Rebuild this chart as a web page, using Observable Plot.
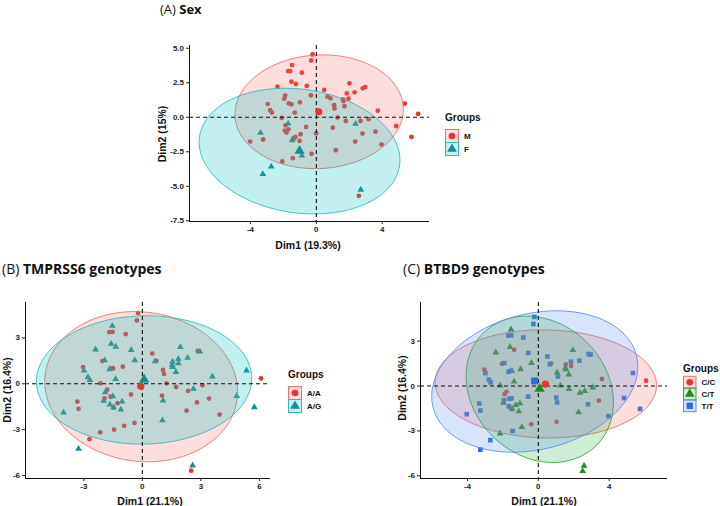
<!DOCTYPE html>
<html><head><meta charset="utf-8">
<script src="https://cdn.jsdelivr.net/npm/d3@7"></script>
<script src="https://cdn.jsdelivr.net/npm/@observablehq/plot@0.6"></script>
<style>
html,body{margin:0;padding:0;background:#fff;}
body{width:720px;height:506px;position:relative;overflow:hidden;}
.panel{position:absolute;}
#overlay{position:absolute;left:0;top:0;}
</style></head><body>
<script>
// ---------- DATA ----------
// Panel A: Sex (Dim1 19.3%, Dim2 15%)
const sexGroups = ["M", "F"];
const sexM = [
[-0.23,4.55],[-0.31,4.12],[-1.47,3.78],[-1.71,3.35],[-1.59,3.35],[-0.88,3.23],[-1.51,2.58],[-1.24,2.41],[-2.36,2.22],[-0.58,2.27],
[2.01,2.46],[2.82,2.10],[2.97,2.19],[0.48,1.98],[2.32,1.81],[1.85,1.73],[-0.33,1.59],[-1.89,1.57],[-1.95,1.35],[0.68,1.49],
[0.86,1.37],[1.61,1.30],[1.65,1.18],[1.95,1.35],[-2.95,0.96],[-1.67,1.01],[-1.51,0.94],[-1.00,1.08],[1.71,0.80],[1.08,0.87],
[1.10,0.63],[5.37,0.99],[-2.80,0.51],[-2.70,0.34],[-1.31,0.34],[3.73,0.48],[6.18,0.24],[-2.10,-0.05],[1.29,-0.02],[1.79,-0.27],
[2.68,-0.27],[3.17,-0.14],[-1.87,-0.58],[-0.62,-0.70],[1.00,-0.75],[4.85,-0.63],[-1.91,-0.96],[-1.69,-0.87],[-1.81,-1.11],[3.59,-1.04],
[2.80,-1.18],[5.78,-1.42],[-0.96,-1.23],[-1.27,-1.42],[-1.37,-1.52],[-0.01,-1.16],[-3.23,-1.61],[-4.02,-1.76],[-1.02,-1.71],[2.36,-1.76],
[3.96,-1.98],[1.18,-2.39],[-0.29,-2.65],[-1.43,-2.96],[-2.07,-3.20],[2.58,-5.69]
];
const sexF = [[-1.71,-0.46],[-3.39,-1.13],[-1.47,-1.66],[2.38,-0.48],[-0.88,-2.77],[-2.74,-3.57],[-3.25,-4.12],[2.70,-5.25]];
const sexMeans = [[0.15,0.40],[-1.02,-2.43]];
// ellipse: centre x, centre y, semi-axis a, semi-axis b, angle (rad)
const sexEllipses = [[0.17,0.40,5.12,4.11,0.10],[-1.02,-2.45,6.17,4.45,-0.227]];
const sexXTicks = [-4,0,4];
const sexYTicks = [5,2.5,0,-2.5,-5,-7.5];

// Panels B & C: same individuals (Dim1 21.1%, Dim2 16.4%) [x, y, TMPRSS6, BTBD9]
const genoPoints = [
[-0.22,4.62,"A/A","T/T"],[-0.28,4.14,"A/A","T/T"],[-1.69,3.37,"A/A","T/T"],[-1.53,3.39,"A/A","T/T"],[-0.85,3.24,"A/A","T/T"],
[-0.57,2.21,"A/G","T/T"],[0.51,1.97,"A/A","T/T"],[0.65,1.46,"A/G","T/T"],[2.84,2.14,"A/A","T/T"],[2.95,2.10,"A/G","T/T"],
[2.32,1.69,"A/G","T/T"],[1.84,1.62,"A/G","T/T"],[-1.93,1.53,"A/G","T/T"],[-2.99,0.86,"A/G","T/T"],[-2.79,0.43,"A/G","T/T"],
[-2.69,0.24,"A/G","T/T"],[-1.68,0.95,"A/G","T/T"],[-1.54,1.02,"A/A","T/T"],[1.11,0.64,"A/A","T/T"],[5.34,0.87,"A/G","T/T"],
[-0.58,-0.70,"A/A","T/T"],[-1.94,-0.95,"A/A","T/T"],[-1.63,-0.85,"A/A","T/T"],[-1.51,-0.82,"A/G","T/T"],[-1.66,-1.36,"A/G","T/T"],
[1.01,-0.77,"A/A","T/T"],[1.06,-1.10,"A/G","T/T"],[2.80,-1.22,"A/A","T/T"],[4.84,-0.80,"A/G","T/T"],[5.74,-1.53,"A/G","T/T"],
[-3.33,-1.17,"A/A","T/T"],[-3.27,-1.64,"A/A","T/T"],[-4.04,-1.88,"A/G","T/T"],[3.96,-2.01,"A/A","T/T"],[-1.45,-3.00,"A/A","T/T"],
[-2.71,-3.62,"A/A","T/T"],[-3.27,-4.25,"A/G","T/T"],
[-1.54,3.78,"A/G","C/T"],[-1.60,2.61,"A/G","C/T"],[-2.40,2.24,"A/G","C/T"],[-0.39,1.54,"A/G","C/T"],[-1.00,1.12,"A/A","C/T"],
[-1.50,1.00,"A/A","C/T"],[1.95,2.40,"A/G","C/T"],[1.06,0.90,"A/A","C/T"],[1.53,1.22,"A/G","C/T"],[1.56,1.10,"A/G","C/T"],
[1.72,0.77,"A/G","C/T"],[-1.37,0.30,"A/G","C/T"],[-2.15,0.03,"A/A","C/T"],[1.24,0.03,"A/A","C/T"],[1.73,-0.21,"A/A","C/T"],
[3.08,-0.10,"A/A","C/T"],[2.35,-0.46,"A/A","C/T"],[2.62,-0.33,"A/G","C/T"],[-1.04,-1.16,"A/G","C/T"],[-1.27,-1.27,"A/A","C/T"],
[-1.48,-1.53,"A/G","C/T"],[-1.10,-1.69,"A/G","C/T"],[-1.98,-1.12,"A/G","C/T"],[2.27,-1.76,"A/A","C/T"],[-0.93,-2.75,"A/A","C/T"],
[-2.16,-3.17,"A/A","C/T"],[2.58,-5.34,"A/G","C/T"],[2.50,-5.68,"A/A","C/T"],
[-1.36,2.42,"A/G","C/C"],[-2.05,1.48,"A/A","C/C"],[-3.04,1.09,"A/A","C/C"],[0.72,1.50,"A/A","C/C"],[1.55,1.44,"A/G","C/C"],
[1.85,1.33,"A/G","C/C"],[3.59,0.47,"A/G","C/C"],[6.08,0.35,"A/A","C/C"],[-1.80,-0.39,"A/A","C/C"],[-1.90,-0.55,"A/G","C/C"],
[3.42,-0.97,"A/A","C/C"],[-1.48,-1.56,"A/A","C/C"],[-0.40,-2.56,"A/A","C/C"],[1.03,-2.39,"A/G","C/C"]
];
const tmpGroups = ["A/A", "A/G"];
const tmpMeans = [[-0.08,-0.17],[0.09,0.28]];
const tmpEllipses = [[-0.06,-0.19,5.09,4.75,-0.73],[0.09,0.25,5.52,4.19,0.043]];
const tmpXTicks = [-3,0,3,6];
const tmpYTicks = [3,0,-3,-6];

const btbGroups = ["C/C", "C/T", "T/T"];
const btbMeans = [[0.40,0.13],[0.07,-0.19],[-0.21,0.34]];
const btbEllipses = [[0.42,0.14,6.25,3.61,-0.024],[0.08,-0.22,5.05,3.96,1.987],[-0.20,0.30,6.02,4.46,0.395]];
const btbXTicks = [-4,0,4];
const btbYTicks = [3,0,-3,-6];

// ---------- STYLE ----------
const RED = {pt:"#E8332F", line:"#EC6F6B", fill:"#F8766D", sym:"circle"};
const TEAL = {pt:"#138E91", line:"#36B9BC", fill:"#00BFC4", sym:"triangle"};
const GREEN = {pt:"#1C8C1C", line:"#33A833", fill:"#2DB34A", sym:"triangle"};
const BLUE = {pt:"#2D6BE5", line:"#5B8FF0", fill:"#5B8FF0", sym:"square"};

function ellipsePts(e){
  const [cx,cy,a,b,ang] = e;
  return d3.range(180).map(i=>{
    const t = 2*Math.PI*i/180, c=Math.cos(t), s=Math.sin(t);
    return {x: cx + a*c*Math.cos(ang) - b*s*Math.sin(ang), y: cy + a*c*Math.sin(ang) + b*s*Math.cos(ang)};
  });
}

function panel(cfg){
  const marks = [];
  cfg.groups.forEach((g,i)=>{
    const st = cfg.styles[i];
    marks.push(Plot.dot(cfg.rows(g), {x:d=>d[0], y:d=>d[1], symbol: st.sym, r: st.sym==="square"?2.6:(st.sym==="triangle"?2.5:2.4), fill: st.pt, stroke:"none"}));
  });
  cfg.ellipses.forEach((e,i)=>{
    const st = cfg.styles[i];
    marks.push(Plot.line(ellipsePts(e), {x:"x", y:"y", curve:"linear-closed", fill: st.fill, fillOpacity:0.24, stroke: st.line, strokeWidth:0.9}));
  });
  marks.push(Plot.ruleX([0], {stroke:"#111", strokeWidth:1.1, strokeDasharray:"4,3"}));
  marks.push(Plot.ruleY([0], {stroke:"#111", strokeWidth:1.1, strokeDasharray:"4,3"}));
  cfg.means.forEach((m,i)=>{
    const st = cfg.styles[i];
    marks.push(Plot.dot([m], {x:d=>d[0], y:d=>d[1], symbol: st.sym, r: st.sym==="circle"?3.6:(st.sym==="square"?3.9:3.8), fill: st.pt, stroke:"none"}));
  });
  marks.push(Plot.ruleX([cfg.xDomain[0]], {stroke:"#111", strokeWidth:1}));
  marks.push(Plot.ruleY([cfg.yDomain[0]], {stroke:"#111", strokeWidth:1}));
  marks.push(Plot.axisX(cfg.xTicks, {tickSize:3, tickPadding:2, tickFormat:d=>String(d), label:null}));
  marks.push(Plot.axisY(cfg.yTicks, {tickSize:3, tickPadding:2.5, tickFormat:cfg.yFmt, label:null}));
  const svg = Plot.plot({
    width: cfg.width, height: cfg.height,
    marginLeft: cfg.ml, marginRight: cfg.mr, marginTop: cfg.mt, marginBottom: cfg.mb,
    x: {domain: cfg.xDomain}, y: {domain: cfg.yDomain},
    style: {fontFamily:"'Liberation Sans', Arial, sans-serif", fontSize:"8px", fontWeight:"bold", color:"#222", background:"transparent", overflow:"visible"},
    marks
  });
  const wrap = document.createElement("div");
  wrap.className = "panel";
  wrap.style.left = cfg.left + "px"; wrap.style.top = cfg.top + "px";
  wrap.appendChild(svg);
  document.body.appendChild(wrap);
}

panel({
  groups: sexGroups, styles:[RED, TEAL], rows: g => g==="M"?sexM:sexF,
  means: sexMeans, ellipses: sexEllipses,
  xDomain:[-7.70,6.87], yDomain:[-7.55,5.2], xTicks: sexXTicks, yTicks: sexYTicks, yFmt: d=>d.toFixed(1),
  left:130, top:38, width:310, height:200, ml:59, mr:11, mt:7, mb:17
});
panel({
  groups: tmpGroups, styles:[RED, TEAL], rows: g => genoPoints.filter(d=>d[2]===g),
  means: tmpMeans, ellipses: tmpEllipses,
  xDomain:[-5.99,6.57], yDomain:[-6.19,5.31], xTicks: tmpXTicks, yTicks: tmpYTicks, yFmt: d=>String(d),
  left:0, top:296, width:280, height:200, ml:25, mr:10, mt:6, mb:18
});
panel({
  groups: btbGroups, styles:[RED, GREEN, BLUE], rows: g => genoPoints.filter(d=>d[3]===g),
  means: btbMeans, ellipses: btbEllipses,
  xDomain:[-6.65,7.29], yDomain:[-6.18,5.58], xTicks: btbXTicks, yTicks: btbYTicks, yFmt: d=>String(d),
  left:390, top:296, width:290, height:200, ml:30, mr:13, mt:6, mb:18
});

// ---------- TEXT OVERLAY (titles, axis titles, legends) ----------
const ov = d3.select("body").append("svg").attr("id","overlay").attr("width",720).attr("height",506)
  .style("font-family","'Liberation Sans', Arial, sans-serif");

function title(x, y, tag, name, size){
  const t = ov.append("text").attr("x",x).attr("y",y).attr("font-family","'Open Sans', sans-serif")
    .attr("font-size",size).attr("fill","#111");
  t.append("tspan").text(tag + " ");
  t.append("tspan").attr("font-weight","bold").text(name);
}
title(160, 14, "(A)", "Sex", 13);
title(2, 274, "(B)", "TMPRSS6 genotypes", 14);
title(403, 274, "(C)", "BTBD9 genotypes", 14);

function xTitle(x, y, s){ ov.append("text").attr("x",x).attr("y",y).attr("text-anchor","middle").attr("font-size",10.5).attr("font-weight","bold").attr("fill","#111").text(s); }
function yTitle(x, y, s){ ov.append("text").attr("transform",`translate(${x},${y}) rotate(-90)`).attr("text-anchor","middle").attr("font-size",10.5).attr("font-weight","bold").attr("fill","#111").text(s); }
xTitle(308, 249, "Dim1 (19.3%)"); yTitle(166, 134, "Dim2 (15%)");
xTitle(150, 505, "Dim1 (21.1%)"); yTitle(11, 390, "Dim2 (16.4%)");
xTitle(544, 505, "Dim1 (21.1%)"); yTitle(406, 388, "Dim2 (16.4%)");

function legend(x, y, labels, styles, boxW, boxH, gap){
  ov.append("text").attr("x",x).attr("y",y).attr("font-size",10).attr("font-weight","bold").attr("fill","#111").text("Groups");
  labels.forEach((lab,i)=>{
    const st = styles[i];
    const by = y + gap + i*boxH;
    ov.append("rect").attr("x",x+0.5).attr("y",by).attr("width",boxW).attr("height",boxH)
      .attr("fill",st.fill).attr("fill-opacity",0.24).attr("stroke",st.line).attr("stroke-width",1);
    const symType = st.sym==="circle"?d3.symbolCircle:(st.sym==="triangle"?d3.symbolTriangle:d3.symbolSquare);
    const size = Math.PI*Math.pow(st.sym==="circle"?3.3:(st.sym==="square"?3.6:3.6),2);
    ov.append("path").attr("d", d3.symbol(symType, size)()).attr("transform",`translate(${x+0.5+boxW/2},${by+boxH/2})`).attr("fill",st.pt);
    ov.append("text").attr("x",x+boxW+6).attr("y",by+boxH/2+3).attr("font-size",8).attr("font-weight","bold").attr("fill","#111").text(lab);
  });
}
legend(445, 121, sexGroups, [RED, TEAL], 13, 13, 8.5);
legend(288, 378, tmpGroups, [RED, TEAL], 13, 13, 8.5);
legend(683, 371.5, btbGroups, [RED, GREEN, BLUE], 12.5, 11.8, 4.8);
</script>
</body></html>
